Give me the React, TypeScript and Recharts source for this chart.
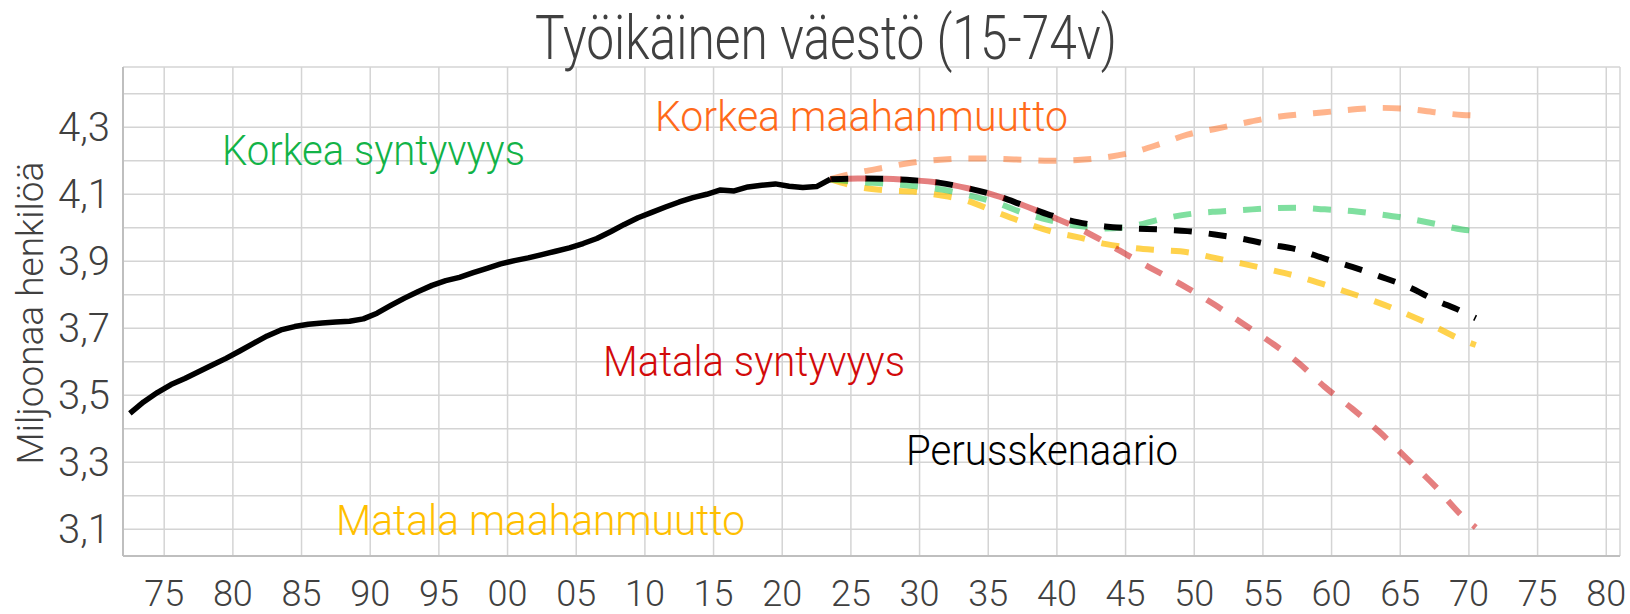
import { CartesianGrid, Line, LineChart, XAxis, YAxis } from "recharts";

// Historical working-age population (15-74), millions
const histYears = [
  1972, 1973, 1974, 1975, 1976, 1977, 1978, 1979, 1980, 1981, 1982, 1983, 1984,
  1985, 1986, 1987, 1988, 1989, 1990, 1991, 1992, 1993, 1994, 1995, 1996, 1997,
  1998, 1999, 2000, 2001, 2002, 2003, 2004, 2005, 2006, 2007, 2008, 2009, 2010,
  2011, 2012, 2013, 2014, 2015, 2016, 2017, 2018, 2019, 2020, 2021, 2022, 2023,
];
const historical = [
  3.446, 3.48, 3.508, 3.532, 3.55, 3.57, 3.59, 3.61, 3.632, 3.655, 3.677, 3.695,
  3.705, 3.712, 3.716, 3.719, 3.721, 3.728, 3.745, 3.768, 3.79, 3.81, 3.828,
  3.842, 3.852, 3.866, 3.879, 3.892, 3.902, 3.91, 3.92, 3.93, 3.94, 3.953,
  3.968, 3.988, 4.01, 4.03, 4.046, 4.062, 4.077, 4.09, 4.1, 4.113, 4.11, 4.122,
  4.127, 4.131, 4.124, 4.12, 4.123, 4.145,
];

// Projection scenarios
const projYears = [
  2023, 2025, 2027, 2029, 2031, 2033, 2035, 2037, 2039, 2041, 2043, 2045, 2047,
  2049, 2051, 2053, 2055, 2057, 2059, 2061, 2063, 2065, 2067, 2069, 2070,
];
const baseScenario = [
  4.145, 4.147, 4.146, 4.142, 4.134, 4.118, 4.097, 4.068, 4.038, 4.017, 4.004,
  3.998, 3.995, 3.99, 3.98, 3.967, 3.95, 3.935, 3.908, 3.883, 3.855, 3.825,
  3.785, 3.75, 3.73,
];
const highBirth = [
  4.145, 4.137, 4.132, 4.125, 4.115, 4.098, 4.076, 4.045, 4.022, 4.006, 3.998,
  4.005, 4.025, 4.04, 4.048, 4.053, 4.058, 4.06, 4.055, 4.05, 4.04, 4.028,
  4.012, 3.995, 3.99,
];
const lowBirth = [
  4.145, 4.147, 4.146, 4.142, 4.134, 4.118, 4.097, 4.068, 4.035, 4.0, 3.957,
  3.91, 3.865, 3.82, 3.77, 3.715, 3.66, 3.6, 3.525, 3.46, 3.39, 3.31, 3.23,
  3.14, 3.105,
];
const highMigration = [
  4.145, 4.165, 4.18, 4.195, 4.203, 4.207, 4.206, 4.203, 4.2, 4.202, 4.21,
  4.225, 4.25, 4.278, 4.295, 4.312, 4.328, 4.338, 4.345, 4.353, 4.358, 4.355,
  4.345, 4.337, 4.335,
];
const lowMigration = [
  4.145, 4.122, 4.112, 4.108, 4.097, 4.08, 4.048, 4.017, 3.99, 3.972, 3.952,
  3.94, 3.933, 3.927, 3.91, 3.893, 3.875, 3.855, 3.83, 3.803, 3.775, 3.742,
  3.705, 3.665, 3.65,
];

// Axis ticks (category boundaries, as in the source spreadsheet)
const xTickValues = [
  1974.5, 1979.5, 1984.5, 1989.5, 1994.5, 1999.5, 2004.5, 2009.5, 2014.5,
  2019.5, 2024.5, 2029.5, 2034.5, 2039.5, 2044.5, 2049.5, 2054.5, 2059.5,
  2064.5, 2069.5, 2074.5, 2079.5,
];
const xTickLabels = [
  "75", "80", "85", "90", "95", "00", "05", "10", "15", "20", "25", "30", "35",
  "40", "45", "50", "55", "60", "65", "70", "75", "80",
];
const yGridValues = [
  3.1, 3.2, 3.3, 3.4, 3.5, 3.6, 3.7, 3.8, 3.9, 4.0, 4.1, 4.2, 4.3, 4.4,
];
const yLabelValues = [3.1, 3.3, 3.5, 3.7, 3.9, 4.1, 4.3];

const allYears = Array.from(new Set([...histYears, ...projYears])).sort(
  (a, b) => a - b
);
const rows = allYears.map((year) => {
  const h = histYears.indexOf(year);
  const p = projYears.indexOf(year);
  return {
    year,
    hist: h >= 0 ? historical[h] : null,
    base: p >= 0 ? baseScenario[p] : null,
    highBirth: p >= 0 ? highBirth[p] : null,
    lowBirth: p >= 0 ? lowBirth[p] : null,
    highMig: p >= 0 ? highMigration[p] : null,
    lowMig: p >= 0 ? lowMigration[p] : null,
  };
});

const FONT = "Roboto, 'Noto Sans', sans-serif";
const TEXT = "#404040";
const DASH = "18 17";

const W = 1630;
const H = 614;

export default function App() {
  return (
    <div style={{ position: "absolute", left: 0, top: 0, width: W, height: H, background: "#fff", overflow: "hidden" }}>
      <LineChart
        width={W}
        height={H}
        data={rows}
        margin={{ top: 67, right: 10, bottom: 0, left: 0 }}
      >
        <CartesianGrid stroke="#d4d4d4" strokeWidth={1.5} />
        <XAxis
          dataKey="year"
          type="number"
          domain={[1971.5, 2080.5]}
          allowDataOverflow
          ticks={xTickValues}
          interval={0}
          tickFormatter={(v: number) => xTickLabels[xTickValues.indexOf(v)] ?? ""}
          height={58}
          axisLine={{ stroke: "#bfbfbf", strokeWidth: 2 }}
          tickLine={false}
          tickSize={0}
          tickMargin={24}
          tick={{ fontSize: 36, fill: TEXT, fontFamily: FONT, fontWeight: 300 }}
        />
        <YAxis
          type="number"
          domain={[3.02, 4.48]}
          allowDataOverflow
          ticks={yGridValues}
          interval={0}
          tickFormatter={(v: number) =>
            yLabelValues.includes(v) ? v.toFixed(1).replace(".", ",") : ""
          }
          width={123}
          axisLine={{ stroke: "#bfbfbf", strokeWidth: 2 }}
          tickLine={false}
          tickSize={0}
          tickMargin={13}
          tick={{ fontSize: 40, fill: TEXT, fontFamily: FONT, fontWeight: 300 }}
        />
        <Line
          dataKey="lowMig"
          type="monotone"
          stroke="#ffbf00"
          strokeOpacity={0.7}
          strokeWidth={6}
          strokeDasharray={DASH}
          dot={false}
          activeDot={false}
          connectNulls
          isAnimationActive={false}
        />
        <Line
          dataKey="highBirth"
          type="monotone"
          stroke="#00c040"
          strokeOpacity={0.5}
          strokeWidth={6}
          strokeDasharray={DASH}
          dot={false}
          activeDot={false}
          connectNulls
          isAnimationActive={false}
        />
        <Line
          dataKey="highMig"
          type="monotone"
          stroke="#ff6a1a"
          strokeOpacity={0.5}
          strokeWidth={6}
          strokeDasharray={DASH}
          dot={false}
          activeDot={false}
          connectNulls
          isAnimationActive={false}
        />
        <Line
          dataKey="base"
          type="monotone"
          stroke="#000"
          strokeWidth={6}
          strokeDasharray={DASH}
          dot={false}
          activeDot={false}
          connectNulls
          isAnimationActive={false}
        />
        <Line
          dataKey="lowBirth"
          type="monotone"
          stroke="#cc0000"
          strokeOpacity={0.5}
          strokeWidth={6}
          strokeDasharray={DASH}
          strokeDashoffset={17}
          dot={false}
          activeDot={false}
          connectNulls
          isAnimationActive={false}
        />
        <Line
          dataKey="hist"
          type="linear"
          stroke="#000"
          strokeWidth={5.5}
          strokeLinejoin="round"
          dot={false}
          activeDot={false}
          connectNulls
          isAnimationActive={false}
        />
      </LineChart>

      <svg
        width={W}
        height={H}
        style={{ position: "absolute", left: 0, top: 0, pointerEvents: "none" }}
        fontFamily={FONT}
        fontWeight={300}
      >
        <text x={535} y={59} fontSize={61} fill={TEXT} textLength={582} lengthAdjust="spacingAndGlyphs">
          Työikäinen väestö (15-74v)
        </text>
        <text
          x={43}
          y={313}
          fontSize={37}
          fill={TEXT}
          textAnchor="middle"
          transform="rotate(-90, 43, 313)"
        >
          Miljoonaa henkilöä
        </text>
        <text x={655} y={131} fontSize={43} fill="#ff6a1a" textLength={413} lengthAdjust="spacingAndGlyphs">
          Korkea maahanmuutto
        </text>
        <text x={222} y={165} fontSize={43} fill="#12b347" textLength={303} lengthAdjust="spacingAndGlyphs">
          Korkea syntyvyys
        </text>
        <text x={603} y={376} fontSize={43} fill="#d20a0a" textLength={302} lengthAdjust="spacingAndGlyphs">
          Matala syntyvyys
        </text>
        <text x={906} y={465} fontSize={43} fill="#000" textLength={272} lengthAdjust="spacingAndGlyphs">
          Perusskenaario
        </text>
        <text x={336} y={535} fontSize={43} fill="#ffbf00" textLength={409} lengthAdjust="spacingAndGlyphs">
          Matala maahanmuutto
        </text>
      </svg>
    </div>
  );
}
